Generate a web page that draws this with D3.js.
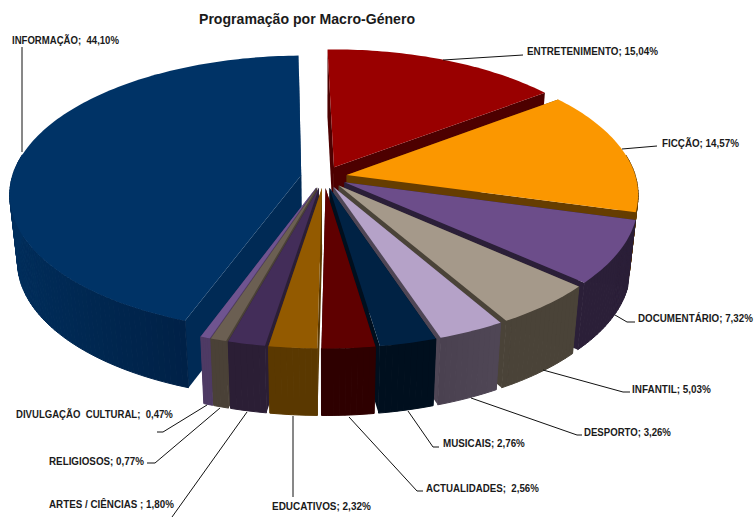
<!DOCTYPE html>
<html><head><meta charset="utf-8">
<script src="https://cdn.jsdelivr.net/npm/d3@7"></script>
<style>html,body{margin:0;padding:0;background:#fff}svg{display:block}
text{font-family:"Liberation Sans Narrow","Liberation Sans",Arial,sans-serif;font-weight:bold;fill:#1a1a1a}</style>
</head><body><svg id="c" width="755" height="517"></svg>
<script>
const categories=["ENTRETENIMENTO","FICÇÃO","DOCUMENTÁRIO","INFANTIL","DESPORTO","MUSICAIS","ACTUALIDADES","EDUCATIVOS","ARTES / CIÊNCIAS","RELIGIOSOS","DIVULGAÇÃO CULTURAL","INFORMAÇÃO"];
const values=[15.04,14.57,7.32,5.03,3.26,2.76,2.56,2.32,1.80,0.77,0.47,44.10];
const labelTexts=["ENTRETENIMENTO; 15,04%","FICÇÃO; 14,57%","DOCUMENTÁRIO; 7,32%","INFANTIL; 5,03%","DESPORTO; 3,26%","MUSICAIS; 2,76%","ACTUALIDADES;  2,56%","EDUCATIVOS; 2,32%","ARTES / CIÊNCIAS ; 1,80%","RELIGIOSOS; 0,77%","DIVULGAÇÃO  CULTURAL;  0,47%","INFORMAÇÃO;  44,10%"];
const topColors=["#990000","#fb9700","#6c4d8a","#a5998a","#b5a2c8","#002244","#5f0000","#935a00","#432d59","#6b5f52","#6f5490","#003366"];
const wallColors=["#4d0000","#663d00","#2b1f38","#4a4338","#4f4655","#000f1e","#2e0000","#5a3800","#2b1e35","#4a4137","#4e3a64","#002a55"];
const wallEndColors=["#4d0000","#663d00","#2b1f38","#4a4338","#4a4150","#000f1e","#2e0000","#5a3800","#2b1e35","#4a4137","#4e3a64","#00305f"];
const paintOrder=[11,10,9,8,7,0,1,2,3,4,5,6];
// label layout: x, baseline y, width, leader polyline
const labelLayout=[
 {x:527,y:55,w:131,l:[[443,60],[523,55]]},
 {x:662,y:147,w:77,l:[[622,149],[657,146]]},
 {x:638,y:322,w:115,l:[[615,315],[627,322],[635,322]]},
 {x:632,y:393,w:79,l:[[543,370],[623,392],[630,392]]},
 {x:584,y:436,w:87,l:[[471,398],[577,435],[582,435]]},
 {x:443,y:447,w:82,l:[[408,411],[433,447],[439,447]]},
 {x:426,y:492,w:113,l:[[349,417],[417,491],[423,491]]},
 {x:272,y:510,w:99,l:[[293,416],[293,497]]},
 {x:49,y:508,w:125,l:[[247,412],[172,517]]},
 {x:49,y:465,w:95,l:[[220,408],[155,463],[147,463]]},
 {x:16,y:418,w:157,l:[[207,405],[163,432],[157,432]]},
 {x:12,y:44,w:107,l:[[22,152],[22,47]]}
];
const cx=324,cy=177,R=289,A=136,K=0.133,explode=0.08,depth=67,shrink=0.975;
const svg=d3.select("#c");
const rot=-1.2*Math.PI/180;
const pie=d3.pie().sort(null).startAngle(rot).endAngle(rot+2*Math.PI);
const arcs=pie(values);
function proj(X,Y,low){
  const s=1/(1+K*Y);
  let x=cx+R*X*s,y=cy-A*Y*s;
  if(low){x=cx+(x-cx)*shrink;y+=depth;}
  return [x,y];
}
const line=d3.line();
function slicePts(a){
  const mid=(a.startAngle+a.endAngle)/2;
  const ox=explode*Math.sin(mid),oy=explode*Math.cos(mid);
  const n=Math.max(4,Math.ceil((a.endAngle-a.startAngle)/0.02));
  const th=d3.range(n+1).map(i=>a.startAngle+(a.endAngle-a.startAngle)*i/n);
  const at=(t,low)=>proj(ox+Math.sin(t),oy+Math.cos(t),low);
  return {th,apex:proj(ox,oy,false),apexL:proj(ox,oy,true),
    top:th.map(t=>at(t,false)),bot:th.map(t=>at(t,true))};
}
const chart=svg.append("g");
paintOrder.forEach(i=>{
  const p=slicePts(arcs[i]);
  const wall=wallColors[i];
  const G=chart.append("g").attr("class","slice");
  const rad=(a,b)=>line([p.apex,a,b,p.apexL])+"Z";
  G.append("path").attr("d",rad(p.top[0],p.bot[0])).attr("fill",wall);
  G.append("path").attr("d",rad(p.top[p.top.length-1],p.bot[p.bot.length-1])).attr("fill",wall);
  const shade=d3.interpolateRgb(wallColors[i],wallEndColors[i]);
  const last=p.top.length-2;
  p.top.slice(0,-1).forEach((t,k)=>{
    if(Math.cos(p.th[k])>0.15) return; // far rim is hidden behind the top face
    let f=last?k/last:0;
    const c=i===11?d3.interpolateRgb("#002147","#00305f")(d3.easeQuadOut(Math.min(1,f*1.8))):shade(f);
    G.append("path").attr("d",line([t,p.top[k+1],p.bot[k+1],p.bot[k]])+"Z")
      .attr("fill",c).attr("stroke",c).attr("stroke-width",1);
  });
  G.append("path").attr("d",line([p.apex].concat(p.top))+"Z").attr("fill",topColors[i]);
});
const lab=svg.append("g");
// squeeze each label horizontally to its measured width in the picture
function fitted(sel,d){
  const nat=sel.node().getComputedTextLength();
  sel.attr("transform",`translate(${d.x},${d.y}) scale(${d.w/nat},1)`);
}
labelLayout.forEach((d,i)=>{
  lab.append("path").attr("d",line(d.l)).attr("fill","none").attr("stroke","#111").attr("stroke-width",1);
  lab.append("text").attr("font-size",10.5).style("white-space","pre").text(labelTexts[i]).call(fitted,d);
});
svg.append("text").attr("x",199).attr("y",24).attr("font-size",14.5)
  .style("font-family","'Liberation Sans',Arial,sans-serif").attr("textLength",216).attr("lengthAdjust","spacingAndGlyphs").text("Programação por Macro-Género");
</script></body></html>
